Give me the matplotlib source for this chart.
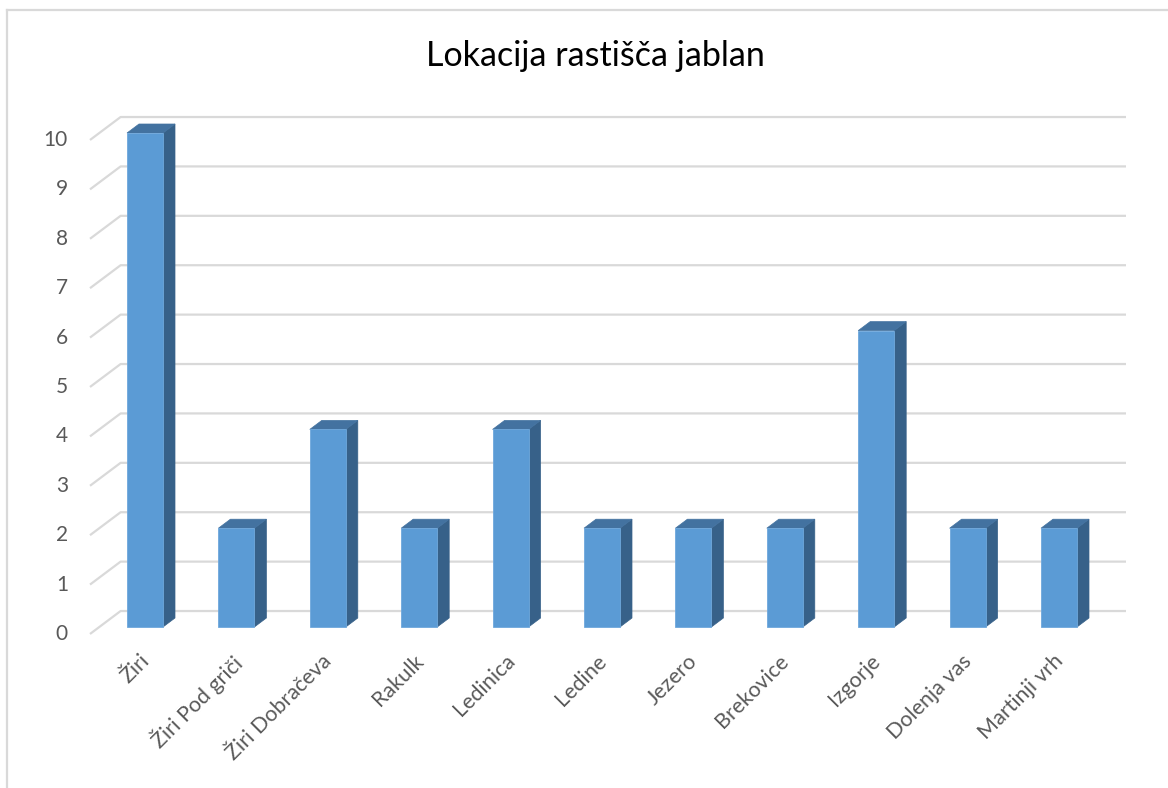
import matplotlib
matplotlib.use("Agg")
import matplotlib.pyplot as plt
import matplotlib.transforms as mtransforms
from matplotlib.patches import Polygon
from matplotlib.lines import Line2D

plt.rcParams['font.family'] = ['Lato', 'DejaVu Sans']

# podatki
lokacije = ['Žiri', 'Žiri Pod griči', 'Žiri Dobračeva', 'Rakulk', 'Ledinica', 'Ledine',
            'Jezero', 'Brekovice', 'Izgorje', 'Dolenja vas', 'Martinji vrh']
stevilo = [10, 2, 4, 2, 4, 2, 2, 2, 6, 2, 2]
y_ticks = list(range(0, 11))

W, H = 1168, 788
fig = plt.figure(figsize=(W / 100, H / 100), dpi=100)

# okvir grafa
fig.add_artist(Line2D([7 / W, 1], [1 - 10 / H, 1 - 10 / H], color='#D9D9D9', lw=1.6))
fig.add_artist(Line2D([7 / W, 7 / W], [0, 1 - 10 / H], color='#D9D9D9', lw=1.6))

# os v ravnini sprednje ploskve stolpcev
left_px, right_px = 99.3, 1104.7
bot_px, top_px = 627, 133
ax = fig.add_axes([left_px / W, 1 - bot_px / H, (right_px - left_px) / W, (bot_px - top_px) / H])
n = len(lokacije)
ax.set_xlim(-0.5, n - 0.5)
ax.set_ylim(0, 10)
ax.axis('off')

px_x = (right_px - left_px) / n
px_y = (bot_px - top_px) / 10.0


def proj(x, v, depth):
    # posevna projekcija: globina v pikslih, naklon 0.75
    return x + depth / px_x, v + 0.75 * depth / px_y


d_front, d_bar, d_wall = -9.3, 12, 21.3
grid_col = '#D9D9D9'

# mreža (tla/stena)
lbl_tr = mtransforms.offset_copy(ax.transData, fig, x=-22, y=0, units='dots')
for v in y_ticks:
    p0 = proj(-0.5, v, d_front)
    p1 = proj(-0.5, v, d_wall)
    p2 = proj(n - 0.5, v, d_wall)
    ax.plot([p0[0], p1[0], p2[0]], [p0[1], p1[1], p2[1]], color=grid_col, lw=1.6,
             zorder=1, clip_on=False, solid_capstyle='butt')
    ax.text(p0[0], p0[1], str(v), transform=lbl_tr, ha='right', va='center',
            fontsize=15, color='#595959')

# stolpci
bw = 36 / px_x
ax.bar(range(n), stevilo, width=bw, color='#5B9BD5', edgecolor='#6FA8DC', lw=0.6,
       zorder=3, clip_on=False)
for i, v in enumerate(stevilo):
    xr = i + bw / 2
    xl = i - bw / 2
    side = [(xr, 0), (xr, v), proj(xr, v, d_bar), proj(xr, 0, d_bar)]
    top = [(xl, v), (xr, v), proj(xr, v, d_bar), proj(xl, v, d_bar)]
    ax.add_patch(Polygon(side, closed=True, facecolor='#376189', edgecolor='#376189',
                         lw=0.5, zorder=2.5, clip_on=False))
    ax.add_patch(Polygon(top, closed=True, facecolor='#4372A0', edgecolor='#4372A0',
                         lw=0.5, zorder=2.5, clip_on=False))

# oznake kategorij
xl_tr = mtransforms.offset_copy(ax.transData, fig, x=-6, y=-24, units='dots')
for i, name in enumerate(lokacije):
    ax.text(i, 0, name, transform=xl_tr, rotation=45, ha='right', va='top',
            rotation_mode='anchor', fontsize=15.5, color='#595959')

fig.text(595 / W, 1 - 56 / H, 'Lokacija rastišča jablan', ha='center', va='center',
         fontsize=24.5, color='#000000')

fig.savefig('out.png', dpi=100)
